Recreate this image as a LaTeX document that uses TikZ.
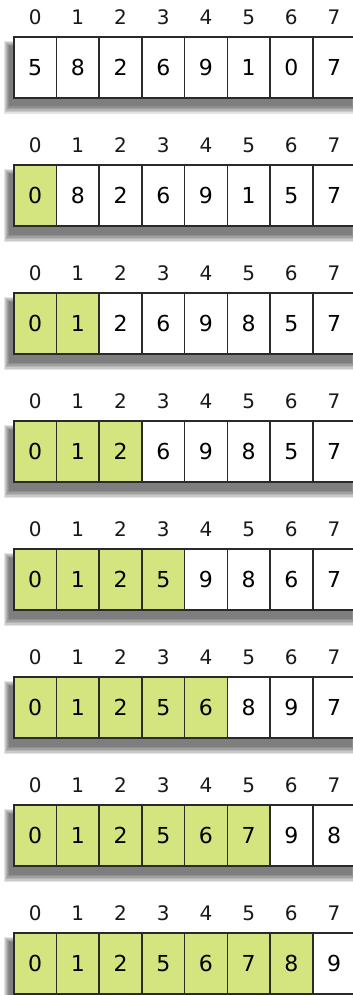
\documentclass[tikz,border=0pt]{standalone}
\usepackage{fontspec}
\setmainfont{DejaVu Sans}
\definecolor{sortedgreen}{HTML}{D4E47E}
\definecolor{cellline}{HTML}{2A2A2A}

\begin{document}
\begin{tikzpicture}[
  x=1pt,
  y=-1pt,
  every node/.style={font=\fontsize{20}{20}\selectfont},
  cell/.style={draw=cellline, line width=1.6pt, minimum width=42.7pt,
    minimum height=61pt, inner sep=0pt, anchor=north west,
    font=\fontsize{22}{22}\selectfont},
  done/.style={cell, fill=sortedgreen},
  open/.style={cell, fill=white},
  index/.style={inner sep=0pt, text=black!90},
  shade/.style={black, opacity=0.11}
]
  % ---- page, 353 x 995 ---------------------------------------------------
  \useasboundingbox (0,0) rectangle (353,995);

  % ---- one pass of the sort per row --------------------------------------
  \foreach \vals [count=\r from 0] in {
      {5,8,2,6,9,1,0,7},
      {0,8,2,6,9,1,5,7},
      {0,1,2,6,9,8,5,7},
      {0,1,2,6,9,8,5,7},
      {0,1,2,5,9,8,6,7},
      {0,1,2,5,6,8,9,7},
      {0,1,2,5,6,7,9,8},
      {0,1,2,5,6,7,8,9}} {
    \pgfmathsetmacro\top{36+128*\r}

    % shadow under the row
    \foreach \k in {0,...,5}
      \fill[shade] (4+\k,\top+5+\k) rectangle (357-\k,\top+78-1.5*\k);

    % cells, the first \r of them already in place
    \foreach \v [count=\i from 0] in \vals {
      \ifnum\i<\r
        \node[done] (c-\r-\i) at (13+42.7*\i,\top) {\v};
      \else
        \node[open] (c-\r-\i) at (13+42.7*\i,\top) {\v};
      \fi
      \node[index] (i-\r-\i) at ([yshift=19pt]c-\r-\i.north) {\i};
    }
  }
\end{tikzpicture}
\end{document}
